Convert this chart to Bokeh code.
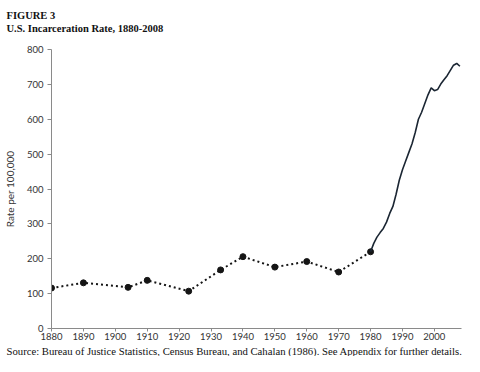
from bokeh.plotting import figure
from bokeh.models import Title, FixedTicker, Range1d
from bokeh.embed import file_html
from bokeh.resources import INLINE

# Historical (decennial / benchmark) estimates, dotted
years_early = [1880, 1890, 1904, 1910, 1923, 1933, 1940, 1950, 1960, 1970, 1980]
rates_early = [116, 131, 118, 138, 107, 168, 206, 176, 192, 162, 220]

# Annual series, solid
years_modern = [1980, 1981, 1982, 1983, 1984, 1985, 1986, 1987, 1988, 1989,
                1990, 1991, 1992, 1993, 1994, 1995, 1996, 1997, 1998, 1999,
                2000, 2001, 2002, 2003, 2004, 2005, 2006, 2007, 2008]
rates_modern = [220, 244, 262, 275, 287, 305, 330, 350, 385, 425,
                455, 480, 505, 530, 562, 600, 620, 645, 670, 690,
                682, 685, 701, 713, 725, 740, 755, 760, 752]

x_ticks = [1880, 1890, 1900, 1910, 1920, 1930, 1940, 1950, 1960, 1970, 1980, 1990, 2000]
y_ticks = [0, 100, 200, 300, 400, 500, 600, 700, 800]

title_1 = "FIGURE 3"
title_2 = "U.S. Incarceration Rate, 1880-2008"
source_text = "Source: Bureau of Justice Statistics, Census Bureau, and Cahalan (1986). See Appendix for further details."
y_label = "Rate per 100,000"

W, H = 464, 356
p = figure(width=W, height=H, output_backend="svg", toolbar_location=None,
           x_range=Range1d(1880, 2008.5), y_range=Range1d(0, 800),
           min_border_left=45, min_border_right=3, min_border_top=0, min_border_bottom=0)
p.outline_line_color = None
p.grid.visible = False
p.background_fill_color = "white"

axis_font = "Lato"
for ax in (p.xaxis[0], p.yaxis[0]):
    ax.axis_line_color = "#8a8a8a"
    ax.major_tick_line_color = "#8a8a8a"
    ax.minor_tick_line_color = None
    ax.major_tick_in = 0
    ax.major_tick_out = 4
    ax.major_label_text_font = axis_font
    ax.major_label_text_font_size = "9.5px"
    ax.major_label_text_color = "#333333"
    ax.major_label_standoff = 4
p.xaxis.major_tick_out = 3
p.xaxis.major_label_standoff = 1

p.xaxis.ticker = FixedTicker(ticks=x_ticks)
p.yaxis.ticker = FixedTicker(ticks=y_ticks)
p.yaxis.axis_label = y_label
p.yaxis.axis_label_text_font = axis_font
p.yaxis.axis_label_text_font_size = "10px"
p.yaxis.axis_label_text_font_style = "normal"
p.yaxis.axis_label_text_color = "#333333"
p.yaxis.axis_label_standoff = 8

p.line(years_early, rates_early, line_color="#151515", line_width=2, line_dash="2 3")
p.scatter(years_early, rates_early, size=6, fill_color="#151515", line_color="#151515")
p.line(years_modern, rates_modern, line_color="#1b2633", line_width=1.6)

serif = "Liberation Serif"
# spacer between subtitle and plot area
p.add_layout(Title(text=" ", align="left", standoff=0,
                   text_font=serif, text_font_size="12px"), "above")
p.add_layout(Title(text=title_2, align="left", offset=-45, standoff=0,
                   text_font=serif, text_font_style="bold", text_font_size="10.5px",
                   text_color="#111111"), "above")
p.add_layout(Title(text=title_1, align="left", offset=-45, standoff=0,
                   text_font=serif, text_font_style="bold", text_font_size="10.5px",
                   text_color="#111111"), "above")
# small spacer above the figure label
p.add_layout(Title(text=" ", align="left", standoff=0,
                   text_font=serif, text_font_size="4px"), "above")
p.add_layout(Title(text=source_text, align="left", offset=-45, standoff=0,
                   text_font=serif, text_font_style="normal", text_font_size="10.7px",
                   text_line_height=1.0, text_color="#111111"), "below")

open("out.html", "w").write(file_html(p, INLINE))
